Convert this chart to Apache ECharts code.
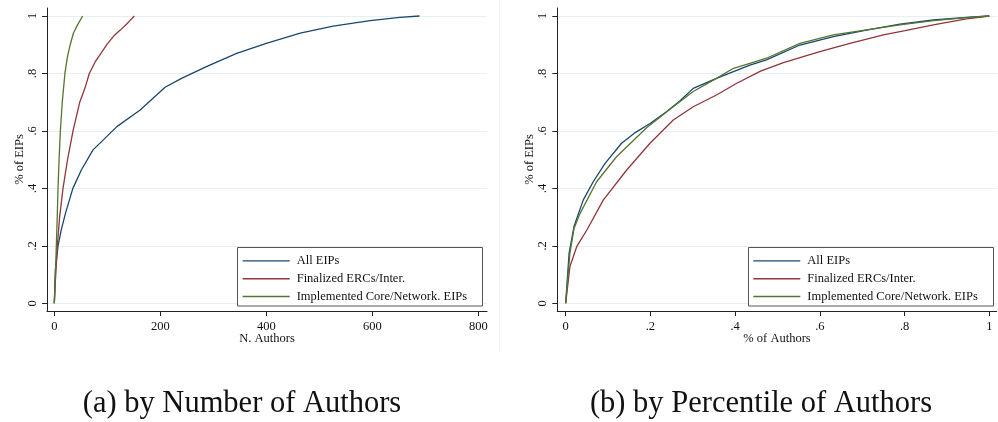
<!DOCTYPE html>
<html><head><meta charset="utf-8">
<script src="https://cdn.jsdelivr.net/npm/echarts@6/dist/echarts.min.js"></script>
<style>html,body{margin:0;padding:0;background:#fff}#c{width:998px;height:422px}</style>
</head><body><div id="c"></div>
<script>
const seriesNames = ['All EIPs', 'Finalized ERCs/Inter.', 'Implemented Core/Network. EIPs'];
const seriesColors = ['#1a476f', '#90353b', '#55752f'];

// Panel (a): by number of authors
const nAuthorsAll = [0, 1, 2, 7, 13, 21, 35, 51, 73, 92, 118, 162, 209, 240, 287, 344, 400, 464, 526, 596, 652, 689];
const pctEipsAll  = [0, 0.06, 0.116, 0.2, 0.255, 0.313, 0.4, 0.464, 0.534, 0.568, 0.615, 0.673, 0.752, 0.783, 0.824, 0.870, 0.905, 0.940, 0.965, 0.984, 0.995, 1.0];
const nAuthorsFin = [0, 1.5, 3.2, 5.7, 10, 16.4, 25, 35.3, 48, 58, 66, 77, 88, 99, 112, 124, 138, 151];
const pctEipsFin  = [0, 0.06, 0.116, 0.2, 0.3, 0.4, 0.5, 0.6, 0.7, 0.75, 0.8, 0.84, 0.87, 0.9, 0.93, 0.95, 0.975, 1.0];
const nAuthorsImp = [0, 2, 3.8, 5.5, 7, 9, 11.4, 15, 20, 25, 30, 36, 44, 53.5];
const pctEipsImp  = [0, 0.1, 0.2, 0.3, 0.4, 0.5, 0.6, 0.7, 0.8, 0.86, 0.9, 0.94, 0.97, 1.0];

// Panel (b): by percentile of authors
const pctAuthAll = [0, 0.008, 0.0196, 0.0416, 0.065, 0.093, 0.132, 0.165, 0.199, 0.238, 0.27, 0.301, 0.356, 0.396, 0.435, 0.474, 0.553, 0.632, 0.71, 0.789, 0.868, 0.946, 1];
const pctEipAll  = [0, 0.174, 0.267, 0.36, 0.423, 0.487, 0.557, 0.595, 0.626, 0.667, 0.705, 0.748, 0.783, 0.806, 0.829, 0.847, 0.899, 0.928, 0.951, 0.972, 0.986, 0.995, 1];
const pctAuthFin = [0, 0.01, 0.026, 0.05, 0.089, 0.144, 0.199, 0.254, 0.301, 0.356, 0.404, 0.46, 0.514, 0.6, 0.671, 0.75, 0.801, 0.868, 0.946, 1];
const pctEipFin  = [0, 0.128, 0.197, 0.255, 0.36, 0.464, 0.557, 0.638, 0.684, 0.725, 0.766, 0.808, 0.838, 0.876, 0.905, 0.934, 0.949, 0.969, 0.99, 1];
const pctAuthImp = [0, 0.01, 0.0196, 0.034, 0.073, 0.12, 0.191, 0.25, 0.301, 0.356, 0.396, 0.435, 0.474, 0.553, 0.632, 0.71, 0.789, 0.868, 0.946, 1];
const pctEipImp  = [0, 0.174, 0.26, 0.313, 0.423, 0.51, 0.611, 0.68, 0.737, 0.783, 0.818, 0.835, 0.853, 0.905, 0.934, 0.952, 0.969, 0.984, 0.994, 1];

const yTicks = [0, 0.2, 0.4, 0.6, 0.8, 1];
const xTicksA = [0, 200, 400, 600, 800];
const xTicksB = [0, 0.2, 0.4, 0.6, 0.8, 1];

const captionA = '(a) by Number of Authors';
const captionB = '(b) by Percentile of Authors';

const FONT = 'Liberation Serif';
const fmtFrac = v => (v === 0 ? '0' : v === 1 ? '1' : String(+v.toFixed(2)).replace(/^0/, ''));
const zip = (xs, ys) => xs.map((x, i) => [x, ys[i]]);

const axisCol = '#222';
const labelStyle = { fontFamily: FONT, fontSize: 12.5, color: '#111' };

function yAxis(gi) {
  return {
    gridIndex: gi, type: 'value', min: -0.0268, max: 1.0278,
    axisLine: { show: true, onZero: false, lineStyle: { color: axisCol, width: 1 } },
    axisTick: { show: true, length: 5, customValues: yTicks, lineStyle: { color: axisCol } },
    axisLabel: Object.assign({ customValues: yTicks, rotate: 90, margin: 8, formatter: fmtFrac }, labelStyle),
    splitLine: { show: true, lineStyle: { color: '#e6eff1', width: 1 } },
    name: '% of EIPs', nameLocation: 'middle', nameGap: 21, nameMoveOverlap: false,
    nameTextStyle: labelStyle
  };
}
function xAxis(gi, min, max, ticks, fmt, name) {
  return {
    gridIndex: gi, type: 'value', min: min, max: max,
    axisLine: { show: true, onZero: false, lineStyle: { color: axisCol, width: 1 } },
    axisTick: { show: true, length: 5, customValues: ticks, lineStyle: { color: axisCol } },
    axisLabel: Object.assign({ customValues: ticks, margin: 9, formatter: fmt }, labelStyle),
    splitLine: { show: false },
    name: name, nameLocation: 'middle', nameGap: 21.5, nameMoveOverlap: false,
    nameTextStyle: labelStyle
  };
}
function line(name, color, xi, data) {
  return {
    type: 'line', name: name, xAxisIndex: xi, yAxisIndex: xi, data: data,
    symbol: 'none', showSymbol: false, smooth: false, animation: false,
    lineStyle: { color: color, width: 1.3 }, itemStyle: { color: color }
  };
}
function legend(left) {
  return {
    left: left, top: 252, orient: 'vertical', padding: 0, itemGap: 0,
    itemWidth: 47, itemHeight: 1.4, icon: 'rect', selectedMode: false, data: seriesNames,
    textStyle: Object.assign({ lineHeight: 17.8, padding: [0, 0, 0, 2] }, labelStyle)
  };
}

const chart = echarts.init(document.getElementById('c'), null, { renderer: 'canvas' });
chart.setOption({
  animation: false,
  backgroundColor: '#fff',
  grid: [
    { left: 47, top: 8, width: 440, height: 303, containLabel: false, outerBoundsMode: 'none' },
    { left: 557.3, top: 8, width: 439.4, height: 303, containLabel: false, outerBoundsMode: 'none' }
  ],
  xAxis: [
    xAxis(0, -13.8, 816.4, xTicksA, v => String(v), 'N. Authors'),
    xAxis(1, -0.0198, 1.0175, xTicksB, fmtFrac, '% of Authors')
  ],
  yAxis: [yAxis(0), yAxis(1)],
  legend: [legend(242.7), legend(753.3)],
  series: [
    line(seriesNames[0], seriesColors[0], 0, zip(nAuthorsAll, pctEipsAll)),
    line(seriesNames[1], seriesColors[1], 0, zip(nAuthorsFin, pctEipsFin)),
    line(seriesNames[2], seriesColors[2], 0, zip(nAuthorsImp, pctEipsImp)),
    line(seriesNames[0], seriesColors[0], 1, zip(pctAuthAll, pctEipAll)),
    line(seriesNames[1], seriesColors[1], 1, zip(pctAuthFin, pctEipFin)),
    line(seriesNames[2], seriesColors[2], 1, zip(pctAuthImp, pctEipImp))
  ],
  graphic: [
    { type: 'rect', z: 3, shape: { x: 237.5, y: 247.5, width: 245, height: 58.5 },
      style: { fill: '#fff', stroke: '#555', lineWidth: 1 } },
    { type: 'rect', z: 3, shape: { x: 748.5, y: 247.5, width: 245, height: 58.5 },
      style: { fill: '#fff', stroke: '#555', lineWidth: 1 } },
    { type: 'line', z: 1, shape: { x1: 499.5, y1: 0, x2: 499.5, y2: 352 },
      style: { stroke: '#eeeeee', lineWidth: 1 } },
    { type: 'text', z: 5, x: 242, y: 404,
      style: { text: captionA, fontFamily: FONT, fontSize: 30.5, fill: '#111', textAlign: 'center', textVerticalAlign: 'middle' } },
    { type: 'text', z: 5, x: 761, y: 404,
      style: { text: captionB, fontFamily: FONT, fontSize: 30.5, fill: '#111', textAlign: 'center', textVerticalAlign: 'middle' } }
  ]
});
</script>
</body></html>
